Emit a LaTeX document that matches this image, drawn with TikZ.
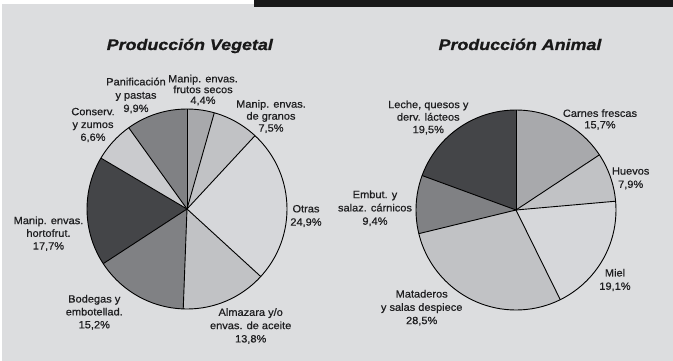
\documentclass[tikz,border=0pt]{standalone}
\usepackage{fontspec}
\setmainfont{Liberation Sans}
\newfontfamily\lblfont{Liberation Sans}[FakeStretch=1.05,FakeBold=0.6]
\newfontfamily\ttlfont{Liberation Sans}[FakeStretch=1.16,FakeBold=0.8]
\definecolor{bg}{RGB}{220,221,223}
\definecolor{txt}{RGB}{30,30,32}
\definecolor{cA}{RGB}{68,69,72}
\definecolor{cB}{RGB}{128,129,132}
\definecolor{cC}{RGB}{168,169,172}
\definecolor{cD}{RGB}{193,194,197}
\definecolor{cE}{RGB}{202,203,206}
\definecolor{cF}{RGB}{214,215,218}
\tikzset{
  lbl/.style={font=\lblfont\fontsize{10.5}{13.3}\selectfont, align=center, text=txt, inner sep=0pt},
  ttl/.style={font=\ttlfont\bfseries\itshape\fontsize{15.4}{18}\selectfont, text=black!90, inner sep=0pt, anchor=base},
  slice/.style={draw=black, line width=0.9pt, line join=round}
}
\newcommand\pieslice[5]{% cx cy a1 a2 color
  \fill[#5] (#1,#2) -- ++(#3:100) arc[start angle=#3, end angle=#4, radius=100] -- cycle;
}
\newcommand\pieline[3]{\draw[slice] (#1,#2) -- ++(#3:100);}
\begin{document}
\begin{tikzpicture}[x=1pt,y=1pt,yscale=-1]
\useasboundingbox (0,0) rectangle (673,361);
\fill[white] (0,0) rectangle (673,361);
\fill[bg] (1.5,4.5) rectangle (673,361);
\fill[black!90] (254,0) rectangle (673,7.5);
% titles
\node[ttl] (tv) at (189.8,50) {Producción Vegetal};
\node[ttl] (ta) at (520,50) {Producción Animal};
% left pie
\pieslice{187}{209}{-90}{-74.16}{cC}
\pieslice{187}{209}{-74.16}{-47.16}{cD}
\pieslice{187}{209}{-47.16}{42.48}{cF}
\pieslice{187}{209}{42.48}{92.16}{cD}
\pieslice{187}{209}{92.16}{146.88}{cB}
\pieslice{187}{209}{146.88}{210.6}{cA}
\pieslice{187}{209}{210.6}{234.36}{cE}
\pieslice{187}{209}{234.36}{270}{cB}
\foreach \a in {-90,-74.16,-47.16,42.48,92.16,146.88,210.6,234.36}{\pieline{187}{209}{\a}}
\draw[slice] (187,209) circle[radius=100];
% right pie
\pieslice{516}{210}{-90}{-33.48}{cC}
\pieslice{516}{210}{-33.48}{-5.04}{cD}
\pieslice{516}{210}{-5.04}{63.72}{cF}
\pieslice{516}{210}{63.72}{166.32}{cD}
\pieslice{516}{210}{166.32}{200.16}{cB}
\pieslice{516}{210}{200.16}{270}{cA}
\foreach \a in {-90,-33.48,-5.04,63.72,166.32,200.16}{\pieline{516}{210}{\a}}
\draw[slice] (516,210) circle[radius=100];
% left labels
\node[lbl] (lpan) at (136,95.5) {Panificación\\y pastas\\9,9\%};
\node[lbl, font=\lblfont\fontsize{10.5}{10.8}\selectfont] (lfru) at (203,90) {Manip. envas.\\frutos secos\\4,4\%};
\node[lbl, font=\lblfont\fontsize{10.5}{12}\selectfont] (lgra) at (271,116.5) {Manip. envas.\\de granos\\7,5\%};
\node[lbl, font=\lblfont\fontsize{10.5}{12.8}\selectfont] (lcon) at (93,125) {Conserv.\\y zumos\\6,6\%};
\node[lbl] (lotr) at (306,216) {Otras\\24,9\%};
\node[lbl, font=\lblfont\fontsize{10.5}{12.7}\selectfont] (lhor) at (48.5,233.7) {Manip. envas.\\hortofrut.\\17,7\%};
\node[lbl, font=\lblfont\fontsize{10.5}{12.9}\selectfont] (lbod) at (94.3,312.3) {Bodegas y\\embotellad.\\15,2\%};
\node[lbl] (lalm) at (250.7,326) {Almazara y/o\\envas. de aceite\\13,8\%};
% right labels
\node[lbl, font=\lblfont\fontsize{10.5}{12.5}\selectfont] (rlec) at (428.3,117.5) {Leche, quesos y\\derv. lácteos\\19,5\%};
\node[lbl, font=\lblfont\fontsize{10.5}{11.5}\selectfont] (rcar) at (600,119.5) {Carnes frescas\\15,7\%};
\node[lbl] (rhue) at (630.7,178.3) {Huevos\\7,9\%};
\node[lbl] (remb) at (375,208.3) {Embut. y\\salaz. cárnicos\\9,4\%};
\node[lbl] (rmie) at (615,280) {Miel\\19,1\%};
\node[lbl] (rmat) at (421.7,307.7) {Mataderos\\y salas despiece\\28,5\%};
\end{tikzpicture}
\end{document}
